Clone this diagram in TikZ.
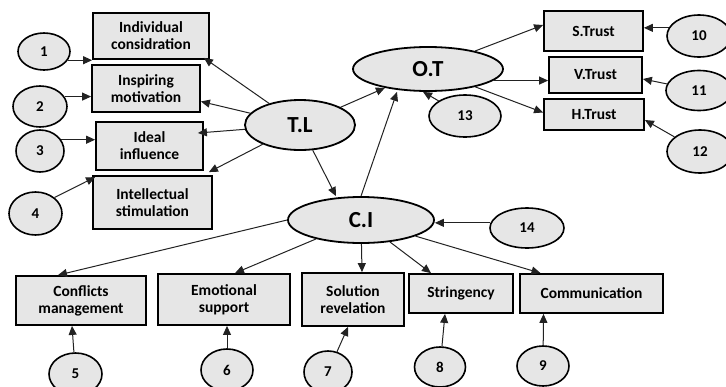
\documentclass[tikz,border=0pt]{standalone}
\usepackage{fontspec}
\setmainfont{Carlito}
\usetikzlibrary{shapes.geometric,arrows.meta}
\definecolor{fillg}{HTML}{E6E6E6}
\definecolor{linec}{HTML}{222222}
\tikzset{
  box/.style={draw=black, line width=1.8pt, fill=fillg, rectangle, inner sep=0pt, align=center,
    font=\fontsize{15.5}{17}\selectfont\bfseries},
  ell/.style={draw=black, line width=1.8pt, fill=fillg, ellipse, inner sep=0pt,
    font=\fontsize{23}{25}\selectfont\bfseries},
  num/.style={draw=black, line width=1.6pt, fill=fillg, ellipse, inner sep=0pt,
    font=\fontsize{15}{17}\selectfont\bfseries},
  arr/.style={draw=linec, line width=1pt, -{Triangle[length=9pt,width=8pt]}}
}
\begin{document}
\begin{tikzpicture}[x=1pt,y=-1pt]
\useasboundingbox (0,0) rectangle (726,386);
% left boxes
\node[box, minimum width=116pt, minimum height=46pt] (ind) at (151,36) {Individual\\considration};
\node[box, minimum width=108pt, minimum height=47pt] (insp) at (146,88.5) {Inspiring\\motivation};
\node[box, minimum width=107pt, minimum height=48pt] (ideal) at (149.5,146) {Ideal\\influence};
\node[box, minimum width=119pt, minimum height=53pt] (intel) at (152.5,202.5) {Intellectual\\stimulation};
% right boxes
\node[box, minimum width=99pt, minimum height=40pt] (strust) at (593.5,31) {S.Trust};
\node[box, minimum width=93pt, minimum height=36pt] (vtrust) at (595.5,75) {V.Trust};
\node[box, minimum width=100pt, minimum height=31pt] (htrust) at (594,114.5) {H.Trust};
% bottom boxes
\node[box, minimum width=130pt, minimum height=49pt] (conf) at (81,300.5) {Conflicts\\management};
\node[box, minimum width=132pt, minimum height=51pt] (emo) at (224,299.5) {Emotional\\support};
\node[box, minimum width=102pt, minimum height=53pt] (sol) at (353,299.5) {Solution\\revelation};
\node[box, minimum width=104pt, minimum height=39pt] (str) at (461,293.5) {Stringency};
\node[box, minimum width=143pt, minimum height=39pt] (comm) at (591.5,293.5) {Communication};
% ellipses
\node[ell, minimum width=110pt, minimum height=50pt] (tl) at (300,125) {T.L};
\node[ell, minimum width=150pt, minimum height=44pt] (ot) at (428,69) {O.T};
\node[ell, minimum width=146pt, minimum height=46pt] (ci) at (361,220) {C.I};
% numbered circles
\node[num, minimum width=52pt, minimum height=37pt] (c1) at (44,51.5) {1};
\node[num, minimum width=54pt, minimum height=41pt] (c2) at (40,106.5) {2};
\node[num, minimum width=48pt, minimum height=42pt] (c3) at (40,151) {3};
\node[num, minimum width=53pt, minimum height=43pt] (c4) at (35.5,213.5) {4};
\node[num, minimum width=53pt, minimum height=42pt] (c5) at (75.5,374) {5};
\node[num, minimum width=52pt, minimum height=42pt] (c6) at (227,370) {6};
\node[num, minimum width=48pt, minimum height=42pt] (c7) at (328,372) {7};
\node[num, minimum width=51pt, minimum height=40pt] (c8) at (440,367) {8};
\node[num, minimum width=52pt, minimum height=40pt] (c9) at (543,366) {9};
\node[num, minimum width=64pt, minimum height=42pt] (c10) at (699,36) {10};
\node[num, minimum width=66pt, minimum height=40pt] (c11) at (699,90.5) {11};
\node[num, minimum width=66pt, minimum height=43pt] (c12) at (700,151.5) {12};
\node[num, minimum width=72pt, minimum height=42pt] (c13) at (465,116) {13};
\node[num, minimum width=74pt, minimum height=40pt] (c14) at (527,228) {14};
% left inputs
\draw[arr] (c1.-20) -- (c1.-20 -| ind.west);
\draw[arr] (c2.22) -- (c2.22 -| insp.west);
\draw[arr] (c3.28) -- (c3.28 -| ideal.west);
\draw[arr] (c4.40) -- ([xshift=3pt,yshift=-2pt]intel.north west);
% T.L outputs
\draw[arr] (tl) -- ([xshift=-6pt,yshift=2pt]ind.south east);
\draw[arr] (tl) -- ([yshift=-13pt]insp.east);
\draw[arr] (tl) -- ([xshift=-6pt,yshift=13pt]ideal.east);
\draw[arr] (tl) -- ([xshift=-4pt,yshift=3pt]intel.north east);
\draw[arr] (tl) -- (ot);
\draw[arr] (tl) -- ([xshift=-25pt]ci.north);
\draw[arr] (ci.north) -- ([xshift=-31pt]ot.south);
\draw[arr] (c13) -- ([xshift=-5pt]ot.south);
\draw[arr] (c14.172) -- (c14.172 -| ci.east);
% O.T outputs
\draw[arr] (ot) -- ([yshift=6pt]strust.west);
\draw[arr] (ot.-10) -- (ot.-10 -| vtrust.west);
\draw[arr] (ot) -- ([yshift=2pt]htrust.west);
\draw[arr] (c10.165) -- (c10.165 -| strust.east);
\draw[arr] (c11) -- ([yshift=-4pt]vtrust.east);
\draw[arr] (c12) -- ([yshift=-5.5pt]htrust.east);
% C.I outputs
\draw[arr] (ci.west) -- ([xshift=-23pt]conf.north);
\draw[arr] (ci) -- ([xshift=11pt]emo.north);
\draw[arr] (ci) -- ([xshift=9pt]sol.north);
\draw[arr] (ci) -- ([xshift=-30pt]str.north);
\draw[arr] (ci) -- ([xshift=-51pt]comm.north);
% bottom inputs
\draw[arr] (c5) -- ([xshift=-9pt]conf.south);
\draw[arr] (c6) -- ([xshift=3pt]emo.south);
\draw[arr] (c7) -- ([xshift=-5pt]sol.south);
\draw[arr] (c8) -- ([xshift=-16pt]str.south);
\draw[arr] (c9) -- ([xshift=-48pt]comm.south);
\end{tikzpicture}
\end{document}
